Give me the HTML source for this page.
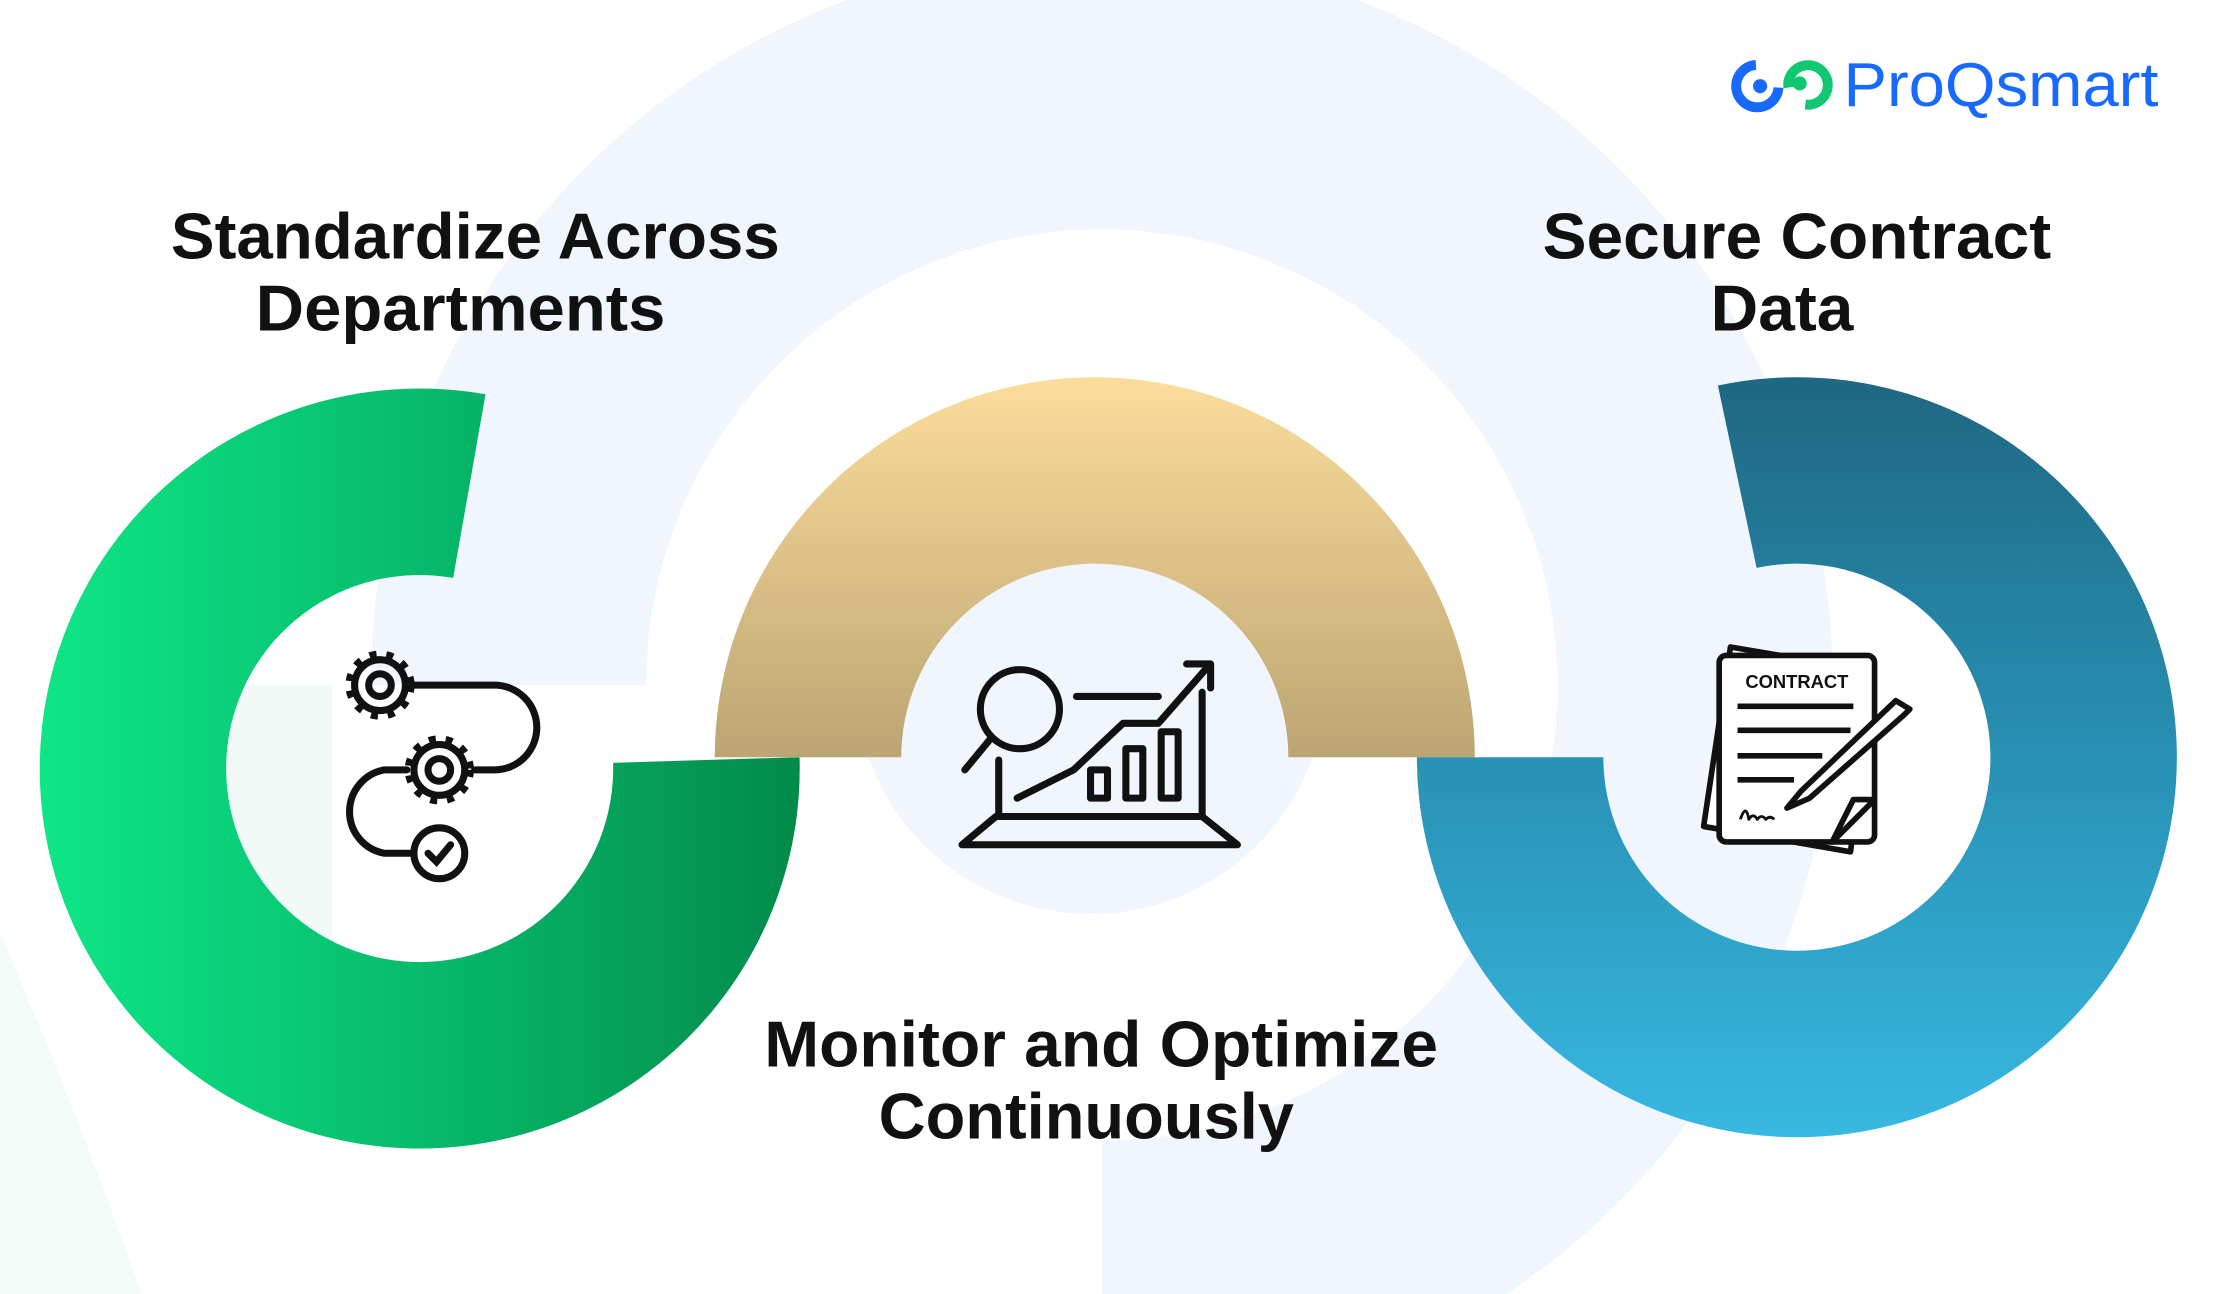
<!DOCTYPE html>
<html><head><meta charset="utf-8"><style>
html,body{margin:0;padding:0;background:#fff;}
svg{display:block;}
text{font-family:"Liberation Sans",sans-serif;font-weight:bold;}
</style></head><body>
<svg width="2215" height="1294" viewBox="0 0 1568 916" preserveAspectRatio="none" xmlns="http://www.w3.org/2000/svg">
<defs>
<linearGradient id="gG" x1="0" y1="0" x2="1" y2="0"><stop offset="0" stop-color="#0ee686"/><stop offset="0.5" stop-color="#07bb6c"/><stop offset="1" stop-color="#028a4a"/></linearGradient>
<linearGradient id="gY" x1="0" y1="0" x2="0" y2="1"><stop offset="0" stop-color="#fbdd9c"/><stop offset="1" stop-color="#bca573"/></linearGradient>
<linearGradient id="gB" x1="0" y1="0" x2="0" y2="1"><stop offset="0" stop-color="#1f6782"/><stop offset="0.5" stop-color="#2891b4"/><stop offset="1" stop-color="#38b8e2"/></linearGradient>
<clipPath id="cl"><path d="M0,0H1568V916H780V485H0Z"/></clipPath>
</defs>
<rect width="1568" height="916" fill="#fff"/>
<circle cx="780" cy="485" r="420" fill="none" stroke="#f1f6fe" stroke-width="195" clip-path="url(#cl)"/>
<path d="M160,485 L235,485 L235,700 L160,700Z" fill="#f2faf7"/>
<path d="M0,660 Q60,800 100,916 L0,916Z" fill="#f3fbf8"/>
<circle cx="772" cy="480" r="167" fill="#f1f6fe"/>
<!-- rings -->
<path d="M343.7,279.1 A269 269 0 1 0 566,536 L434,540 A137 137 0 1 1 320.8,409.1 Z" fill="url(#gG)"/>
<path d="M506,536 A269 269 0 0 1 1044,536 L912,536 A137 137 0 0 0 638,536 Z" fill="url(#gY)"/>
<path d="M1216.1,272.9 A269 269 0 1 1 1003,536 L1135,536 A137 137 0 1 0 1243.5,402 Z" fill="url(#gB)"/>
<!-- logo -->
<path d="M1243,46 A15 15 0 1 0 1259,62" fill="none" stroke="#1769ff" stroke-width="7"/>
<circle cx="1246" cy="61" r="5" fill="#1769ff"/>
<path d="M1266,62 A14 14 0 1 1 1278,74" fill="none" stroke="#10c870" stroke-width="7"/>
<circle cx="1274" cy="59" r="5" fill="#10c870"/>
<text x="1305" y="75" font-size="44" style="font-weight:normal" fill="#1769ff" textLength="223" lengthAdjust="spacingAndGlyphs">ProQsmart</text>
<!-- titles -->
<g fill="#111" font-size="46">
<text x="121" y="183" textLength="431" lengthAdjust="spacingAndGlyphs">Standardize Across</text>
<text x="181" y="234" textLength="290" lengthAdjust="spacingAndGlyphs">Departments</text>
<text x="1092" y="183" textLength="360" lengthAdjust="spacingAndGlyphs">Secure Contract</text>
<text x="1211" y="234" textLength="101" lengthAdjust="spacingAndGlyphs">Data</text>
<text x="541" y="755" textLength="477" lengthAdjust="spacingAndGlyphs">Monitor and Optimize</text>
<text x="622" y="806" textLength="294" lengthAdjust="spacingAndGlyphs">Continuously</text>
</g>
<!-- gear icon -->
<g fill="none" stroke="#111" stroke-width="5" stroke-linecap="round">
<circle cx="269" cy="485" r="18"/><circle cx="269" cy="485" r="8"/>
<circle cx="269" cy="485" r="22" stroke-dasharray="5 7" stroke-width="5" stroke-linecap="butt"/>
<path d="M292,485 H350 A30 30 0 0 1 350,545 H336"/>
<circle cx="311" cy="545" r="18"/><circle cx="311" cy="545" r="8"/>
<circle cx="311" cy="545" r="22" stroke-dasharray="5 7" stroke-width="5" stroke-linecap="butt"/>
<path d="M288,545 H272 A30 30 0 0 0 272,604 H292"/>
<circle cx="311" cy="604" r="18"/>
<path d="M303,604 L309,610 L319,598"/>
</g>
<!-- chart icon -->
<g fill="none" stroke="#111" stroke-width="5" stroke-linecap="round" stroke-linejoin="round">
<circle cx="722" cy="502" r="28"/>
<path d="M702,522 L683,545"/>
<path d="M762,493 H820"/>
<path d="M720,565 L760,545 L795,512 L820,512 L855,472"/>
<path d="M840,470 H857 V487"/>
<rect x="772" y="545" width="12" height="20"/><rect x="797" y="530" width="12" height="35"/><rect x="822" y="518" width="12" height="47"/>
<path d="M707,538 V578 H851 V490"/>
<path d="M705,578 L681,598 H876 L851,578"/>
</g>
<!-- contract icon -->
<g fill="none" stroke="#111" stroke-width="4" stroke-linejoin="round">
<path d="M1225,458 L1325,475 L1310,603 L1206,585 Z" fill="#fff"/>
<rect x="1217" y="464" width="110" height="132" rx="5" fill="#fff"/>
<path d="M1297,596 L1327,566 L1312,566 Z" fill="#fff"/>
<path d="M1230,500 H1312 M1230,517 H1310 M1230,535 H1290 M1230,552 H1270"/>
<path d="M1352,502 L1342,496 L1275,560 L1265,572 L1281,565 L1348,506 Z" fill="#fff"/>
<path d="M1232,580 q4,-12 6,0 q3,-5 6,0 q3,-4 6,0 q3,-3 6,0" stroke-width="2"/>
</g>
<text x="1272" y="487" font-size="13" text-anchor="middle" fill="#111">CONTRACT</text>
</svg>
</body></html>
